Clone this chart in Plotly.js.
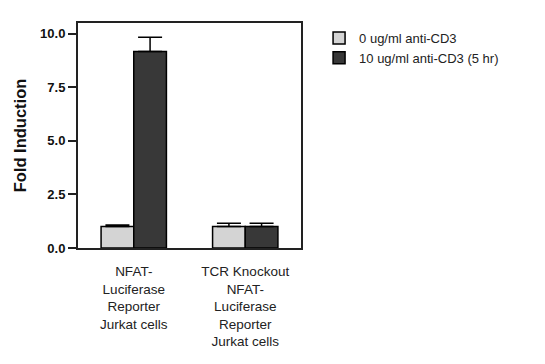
<!DOCTYPE html>
<html>
<head>
<meta charset="utf-8">
<script src="https://cdn.plot.ly/plotly-3.0.1.min.js"></script>
<style>html,body{margin:0;padding:0;background:#fff;}#chart{width:545px;height:364px;}</style>
</head>
<body>
<div id="chart"></div>
<script>
const categories = ["NFAT-<br>Luciferase<br>Reporter<br>Jurkat cells", "TCR Knockout<br>NFAT-<br>Luciferase<br>Reporter<br>Jurkat cells"];
const seriesNames = ["0 ug/ml anti-CD3", "10 ug/ml anti-CD3 (5 hr)"];
const control = [1.0, 1.0];
const controlErr = [0.07, 0.16];
const stimulated = [9.17, 1.0];
const stimulatedErr = [0.66, 0.16];
const yTicks = [0, 2.5, 5, 7.5, 10];
const yTickText = ["0.0", "2.5", "5.0", "7.5", "10.0"];

const xIdx = categories.map((c, i) => i);

const traces = [
  {type: "bar", name: seriesNames[0], x: xIdx, y: control,
   marker: {color: "#d4d4d4", line: {color: "#000", width: 1.5}},
   error_y: {type: "data", array: controlErr, symmetric: false, arrayminus: [0,0], color: "#000", thickness: 1.5, width: 12}},
  {type: "bar", name: seriesNames[1], x: xIdx, y: stimulated,
   marker: {color: "#383838", line: {color: "#000", width: 1.5}},
   error_y: {type: "data", array: stimulatedErr, symmetric: false, arrayminus: [0,0], color: "#000", thickness: 1.5, width: 12}}
];

const layout = {
  width: 545, height: 364,
  margin: {l: 78, r: 244, t: 23, b: 116},
  paper_bgcolor: "#fff", plot_bgcolor: "#fff",
  barmode: "group", bargap: 0.414, bargroupgap: 0,
  font: {family: "Liberation Sans, Arial, sans-serif", color: "#111"},
  xaxis: {
    range: [-0.5, 1.5], tickvals: xIdx, ticktext: categories,
    showline: true, linecolor: "#222", linewidth: 2, mirror: true,
    ticks: "", showgrid: false, zeroline: false, ticklabelstandoff: 10,
    tickfont: {size: 13.5, color: "#222"}
  },
  yaxis: {
    range: [0, 10.5], tickvals: yTicks, ticktext: yTickText,
    showline: true, linecolor: "#222", linewidth: 2, mirror: true,
    ticks: "outside", ticklen: 8, tickwidth: 2, tickcolor: "#222",
    showgrid: false, zeroline: false,
    tickfont: {size: 13, color: "#111", weight: "bold"},
    title: {text: "Fold Induction", font: {size: 16.5, color: "#111", weight: "bold"}, standoff: 9}
  },
  showlegend: true,
  legend: {x: 1.081, y: 1.0, xanchor: "left", yanchor: "top",
           font: {size: 13, color: "#222"}, bgcolor: "rgba(0,0,0,0)", traceorder: "normal"}
};

Plotly.newPlot("chart", traces, layout, {displayModeBar: false, staticPlot: true});
</script>
</body>
</html>
